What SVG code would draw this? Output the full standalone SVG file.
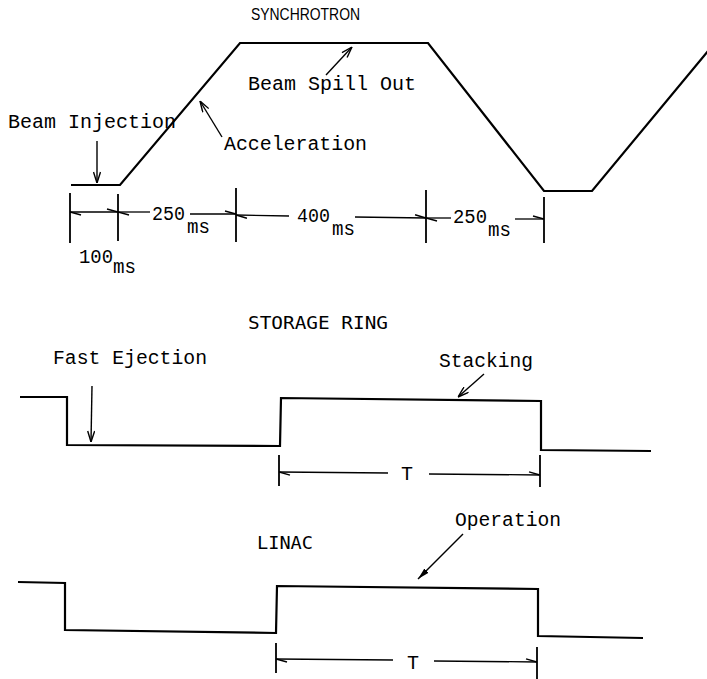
<svg xmlns="http://www.w3.org/2000/svg" width="707" height="679" viewBox="0 0 707 679">
<style>
.curve{fill:none;stroke:#000;stroke-width:2.2;stroke-linejoin:miter}
.dim{fill:none;stroke:#000;stroke-width:1.3}
.tick{fill:none;stroke:#000;stroke-width:1.8}
.lead{fill:none;stroke:#000;stroke-width:1.4}
.mono{font-family:"Liberation Mono","Courier New",monospace;font-size:20px;fill:#000}
.title{font-family:"DejaVu Sans Mono",monospace;font-size:18px;fill:#000}
.cond{font-family:"Liberation Sans Narrow","Liberation Sans",Arial,sans-serif;font-size:17px;fill:#000}
</style>
<defs>
<marker id="barb" viewBox="0 0 12 8" refX="12" refY="4" markerWidth="12" markerHeight="8" markerUnits="userSpaceOnUse" orient="auto-start-reverse">
<path d="M12,4 L1,1" fill="none" stroke="#000" stroke-width="1.5"/>
</marker>
<marker id="head" viewBox="0 0 12 8" refX="12" refY="4" markerWidth="12" markerHeight="8" markerUnits="userSpaceOnUse" orient="auto">
<path d="M12,4 L1,0.5 M12,4 L1,7.5" fill="none" stroke="#000" stroke-width="1.4"/>
</marker>
<marker id="solid" viewBox="0 0 12 8" refX="12" refY="4" markerWidth="12" markerHeight="8" markerUnits="userSpaceOnUse" orient="auto">
<path d="M12,4 L0,1 L0,7 Z" fill="#000"/>
</marker>
</defs>

<g id="synchrotron">
<text class="cond" x="251" y="20" textLength="109" lengthAdjust="spacingAndGlyphs">SYNCHROTRON</text>
<path class="curve" d="M71,185 L120,185 L240,43 L428,43 L544,191 L592,191 L708,51"/>
</g>

<g id="beam-injection">
<text class="mono" x="8" y="128" textLength="168" lengthAdjust="spacingAndGlyphs">Beam Injection</text>
</g>
<g id="acceleration">
<text class="mono" x="224" y="150" textLength="143" lengthAdjust="spacingAndGlyphs">Acceleration</text>
</g>
<g id="beam-spill-out">
<text class="mono" x="248" y="90" textLength="168" lengthAdjust="spacingAndGlyphs">Beam Spill Out</text>
</g>

<g id="sync-timing">
<path class="tick" d="M70,193 V243 M118,194 V241 M236,188 V242 M426,190 V243 M544,197 V243"/>
<text class="mono" x="152" y="220" textLength="33" lengthAdjust="spacingAndGlyphs">250</text>
<text class="mono" x="187" y="233" textLength="23" lengthAdjust="spacingAndGlyphs">ms</text>
<text class="mono" x="297" y="222" textLength="33" lengthAdjust="spacingAndGlyphs">400</text>
<text class="mono" x="332" y="235" textLength="23" lengthAdjust="spacingAndGlyphs">ms</text>
<text class="mono" x="453" y="223" textLength="34" lengthAdjust="spacingAndGlyphs">250</text>
<text class="mono" x="488" y="236" textLength="23" lengthAdjust="spacingAndGlyphs">ms</text>
<text class="mono" x="79" y="263" textLength="34" lengthAdjust="spacingAndGlyphs">100</text>
<text class="mono" x="113" y="273" textLength="23" lengthAdjust="spacingAndGlyphs">ms</text>
</g>

<g id="storage-ring">
<text class="title" x="248" y="329" textLength="140" lengthAdjust="spacingAndGlyphs">STORAGE RING</text>
<path class="curve" d="M20,397 L67,397 L67,445 L280,446 L281,398 L541,401 L541,450 L651,451"/>
</g>
<g id="fast-ejection">
<text class="mono" x="53" y="364" textLength="154" lengthAdjust="spacingAndGlyphs">Fast Ejection</text>
</g>
<g id="stacking">
<text class="mono" x="439" y="367" textLength="94" lengthAdjust="spacingAndGlyphs">Stacking</text>
</g>
<g id="storage-timing">
<path class="tick" d="M279,455 V486 M540,455 V487"/>
<text class="mono" x="401" y="480">T</text>
</g>

<g id="linac">
<text class="title" x="257" y="549" textLength="56" lengthAdjust="spacingAndGlyphs">LINAC</text>
<path class="curve" d="M18,582 L65,583 L65,630 L276,633 L277,586 L538,589 L538,636 L643,638"/>
</g>
<g id="operation">
<text class="mono" x="455" y="526" textLength="106" lengthAdjust="spacingAndGlyphs">Operation</text>
</g>
<g id="linac-timing">
<path class="tick" d="M276,643 V673 M537,647 V679"/>
<text class="mono" x="407" y="669">T</text>
</g>

<g id="connectors">
<path class="lead" d="M97,141 L97,183" marker-end="url(#head)"/>
<path class="lead" d="M222,137 L200,101" marker-end="url(#head)"/>
<path class="lead" d="M326,75 L352,47" marker-end="url(#head)"/>
<path class="lead" d="M92,386 L91,442" marker-end="url(#head)"/>
<path class="lead" d="M484,374 L458,397" marker-end="url(#head)"/>
<path class="lead" d="M463,534 L418,579" stroke-width="1.8" marker-end="url(#solid)"/>

<path class="dim" d="M70,212 L118,212" marker-start="url(#barb)" marker-end="url(#barb)"/>
<path class="dim" d="M118,212 L150,212" marker-start="url(#barb)"/>
<path class="dim" d="M190,214 L236,214" marker-end="url(#barb)"/>
<path class="dim" d="M236,215 L289,216" marker-start="url(#barb)"/>
<path class="dim" d="M355,217 L426,218" marker-end="url(#barb)"/>
<path class="dim" d="M426,218 L451,218" marker-start="url(#barb)"/>
<path class="dim" d="M515,219 L544,219" marker-end="url(#barb)"/>

<path class="dim" d="M279,472 L388,473" marker-start="url(#barb)"/>
<path class="dim" d="M429,474 L540,475" marker-end="url(#barb)"/>
<path class="dim" d="M276,659 L393,660" marker-start="url(#barb)"/>
<path class="dim" d="M434,661 L537,662" marker-end="url(#barb)"/>
</g>
</svg>
